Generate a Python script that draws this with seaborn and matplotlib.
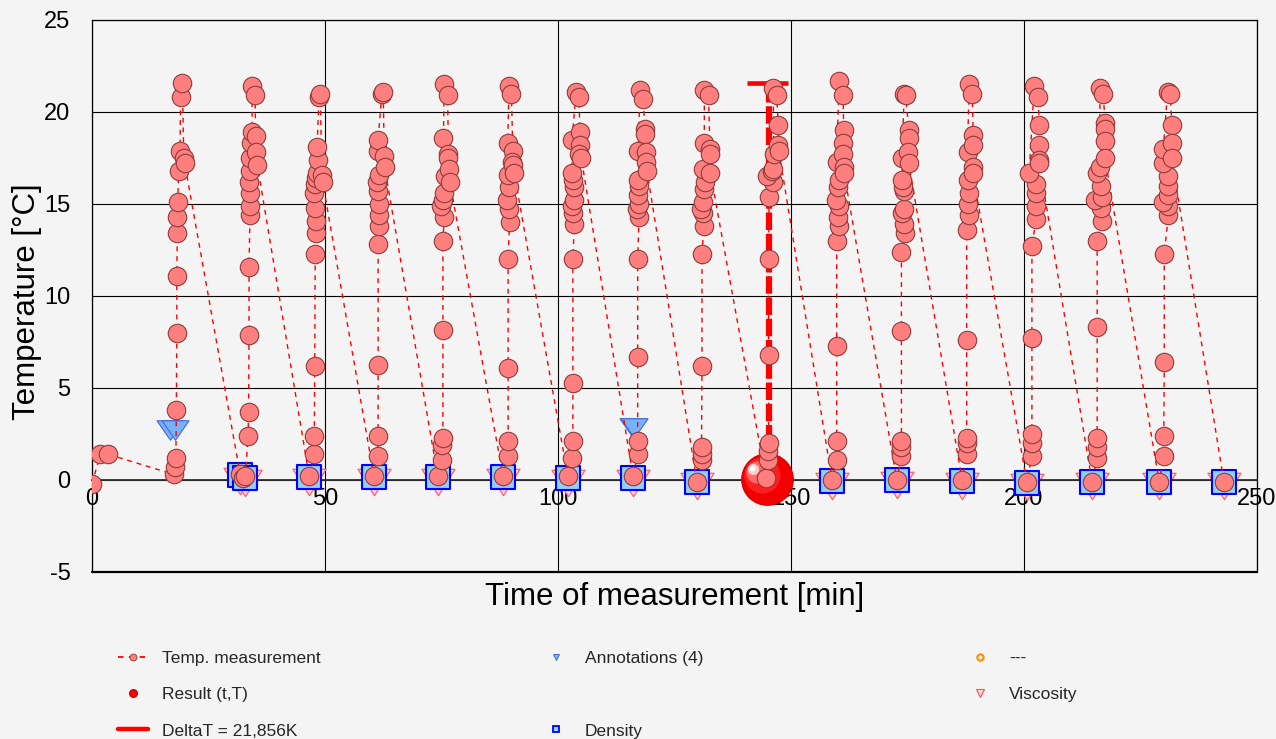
import matplotlib
matplotlib.use("Agg")
import numpy as np
import pandas as pd
import seaborn as sns
from matplotlib import pyplot as plt
from matplotlib.lines import Line2D
from matplotlib.path import Path
from matplotlib.transforms import offset_copy

# temperature measurements, one pair of lists per heating cycle (time [min], temp [°C])
t_c00 = [0.0, 1.8, 3.4]
T_c00 = [-0.2, 1.4, 1.4]
t_c01 = [17.6, 17.8, 18.0, 18.1, 18.2, 18.2, 18.3, 18.3, 18.4, 18.6, 18.9, 19.0, 19.4, 19.7, 19.9]
T_c01 = [0.3, 0.7, 1.2, 3.8, 8.0, 11.1, 13.4, 14.3, 15.1, 16.8, 17.9, 20.8, 21.6, 17.5, 17.2]
t_c02 = [31.8, 32.4, 32.9, 33.5, 33.6, 33.7, 33.7, 33.9, 33.8, 33.8, 33.6, 33.9, 34.0, 34.2, 34.4, 34.3, 35.0, 35.1, 35.3, 35.5]
T_c02 = [0.3, 0.1, 0.2, 2.4, 3.7, 7.9, 11.6, 14.4, 14.9, 15.6, 16.2, 16.8, 17.5, 18.3, 18.9, 21.4, 20.9, 18.7, 17.8, 17.1]
t_c03 = [46.6, 47.6, 47.7, 47.8, 47.9, 48.0, 48.1, 47.9, 47.6, 47.9, 48.0, 48.2, 48.4, 48.3, 48.7, 49.0, 49.3, 49.5]
T_c03 = [0.2, 1.4, 2.4, 6.2, 12.3, 13.4, 14.1, 14.8, 15.6, 16.1, 16.4, 16.7, 17.4, 18.1, 20.8, 21.0, 16.6, 16.2]
t_c04 = [60.5, 61.3, 61.4, 61.4, 61.4, 61.6, 61.6, 61.5, 61.4, 61.2, 61.6, 61.3, 61.4, 62.2, 62.5, 62.7, 62.8]
T_c04 = [0.2, 1.3, 2.4, 6.25, 12.8, 13.8, 14.4, 15.0, 15.7, 16.2, 16.6, 17.9, 18.5, 21.0, 21.1, 17.6, 17.0]
t_c05 = [74.2, 75.2, 75.2, 75.3, 75.3, 75.3, 75.6, 75.0, 75.4, 75.6, 75.8, 75.4, 75.6, 76.3, 76.5, 76.3, 76.6, 76.8]
T_c05 = [0.2, 1.1, 1.9, 2.3, 8.15, 13.0, 14.3, 14.9, 15.2, 15.6, 16.5, 18.6, 21.5, 20.9, 17.7, 17.5, 16.9, 16.2]
t_c06 = [88.2, 89.2, 89.3, 89.3, 89.3, 89.6, 89.4, 89.0, 89.5, 89.3, 89.2, 89.5, 90.0, 90.3, 90.2, 90.4, 90.6]
T_c06 = [0.2, 1.3, 2.1, 6.1, 12.0, 14.0, 14.7, 15.2, 15.9, 16.6, 18.3, 21.4, 21.0, 17.9, 17.3, 17.1, 16.7]
t_c07 = [102.1, 103.1, 103.2, 103.2, 103.2, 103.5, 103.3, 103.0, 103.5, 103.4, 103.3, 103.0, 103.0, 103.9, 104.5, 104.7, 104.7, 104.6, 105.0]
T_c07 = [0.2, 1.2, 2.1, 5.25, 12.0, 13.9, 14.5, 14.9, 15.2, 15.9, 16.3, 16.7, 18.5, 21.1, 20.8, 18.9, 18.2, 17.7, 17.5]
t_c08 = [116.1, 117.1, 117.1, 117.1, 117.1, 117.4, 116.9, 117.4, 117.2, 117.4, 117.2, 117.2, 117.6, 118.2, 118.7, 118.6, 118.8, 118.9, 119.1]
T_c08 = [0.2, 1.4, 2.1, 6.7, 12.0, 14.3, 14.7, 15.0, 15.5, 16.0, 16.3, 17.9, 21.2, 20.7, 19.1, 18.8, 17.8, 17.3, 16.8]
t_c09 = [129.8, 130.8, 130.9, 130.8, 130.9, 130.9, 131.3, 131.2, 130.6, 131.2, 131.3, 131.5, 131.1, 131.4, 131.4, 132.3, 132.6, 132.6, 132.7]
T_c09 = [-0.1, 1.1, 1.4, 1.8, 6.2, 12.3, 13.8, 14.5, 14.7, 15.1, 15.8, 16.2, 16.9, 18.3, 21.2, 20.9, 18.0, 17.7, 16.7]
t_c10 = [144.6, 145.1, 145.1, 145.2, 145.2, 145.2, 145.3, 146.2, 144.9, 146.0, 146.2, 146.3, 146.2, 146.9, 147.3, 147.3, 147.4]
T_c10 = [0.1, 1.1, 1.6, 2.0, 6.8, 12.0, 15.4, 16.2, 16.5, 16.8, 16.9, 17.7, 21.3, 20.9, 19.3, 18.2, 17.9]
t_c11 = [158.8, 159.8, 159.8, 159.8, 159.8, 160.3, 160.1, 160.3, 159.7, 160.1, 160.2, 159.8, 160.3, 161.2, 161.3, 161.2, 161.1, 161.3, 161.4]
T_c11 = [0.0, 1.1, 2.1, 7.3, 13.0, 13.8, 14.3, 14.9, 15.2, 15.9, 16.3, 17.3, 21.7, 20.9, 19.0, 18.3, 17.7, 17.0, 16.7]
t_c12 = [172.7, 173.7, 173.7, 173.7, 173.7, 173.7, 174.4, 174.3, 173.8, 174.3, 174.3, 174.1, 173.9, 173.8, 174.3, 174.6, 175.3, 175.3, 175.2, 175.3]
T_c12 = [0.0, 1.3, 1.8, 2.1, 8.1, 12.4, 13.4, 13.9, 14.5, 14.7, 15.7, 15.9, 16.3, 17.5, 21.0, 20.9, 19.0, 18.6, 17.8, 17.2]
t_c13 = [186.7, 187.7, 187.7, 187.7, 187.7, 187.7, 188.2, 187.9, 188.2, 188.0, 187.9, 188.2, 188.9, 189.1, 189.1, 189.1, 189.0]
T_c13 = [0.0, 1.4, 2.0, 2.3, 7.6, 13.6, 14.4, 15.0, 15.6, 16.3, 17.8, 21.5, 21.0, 18.75, 18.2, 17.0, 16.7]
t_c14 = [200.6, 201.7, 201.7, 201.7, 201.7, 201.7, 202.6, 202.6, 202.6, 202.5, 201.1, 202.2, 203.0, 203.3, 203.3, 203.2, 203.3]
T_c14 = [-0.1, 1.3, 2.0, 2.5, 7.7, 12.7, 14.2, 14.9, 15.6, 16.1, 16.7, 21.4, 20.8, 19.3, 18.2, 17.4, 17.2]
t_c15 = [214.6, 215.7, 215.7, 215.7, 215.7, 215.7, 216.7, 216.5, 215.2, 216.7, 216.6, 215.6, 216.3, 216.3, 217.0, 217.4, 217.4, 217.4, 217.4]
T_c15 = [-0.1, 1.2, 1.8, 2.3, 8.3, 13.0, 14.1, 14.8, 15.2, 15.4, 16.0, 16.7, 17.0, 21.3, 21.0, 19.4, 19.1, 18.4, 17.5]
t_c16 = [229.0, 230.0, 230.0, 230.1, 230.1, 231.0, 230.9, 229.9, 231.0, 231.0, 230.9, 229.9, 229.9, 230.8, 231.4, 231.7, 231.7, 231.7]
T_c16 = [-0.1, 1.3, 2.4, 6.4, 12.3, 14.4, 14.9, 15.1, 15.5, 16.0, 16.5, 17.2, 18.0, 21.1, 21.0, 19.3, 18.3, 17.5]
t_c17 = [242.9]
T_c17 = [-0.1]

# density / viscosity samples taken at the start of each cycle
dens_t = [31.8, 32.8, 46.6, 60.5, 74.2, 88.2, 102.1, 116.1, 129.8, 144.6, 158.8, 172.7, 186.7, 200.6, 214.6, 229.0, 242.9]
dens_T = [0.25, 0.1, 0.15, 0.15, 0.15, 0.15, 0.1, 0.1, -0.1, 0.0, -0.05, 0.0, -0.05, -0.15, -0.1, -0.1, -0.1]
visc_T = [-0.05, -0.15, -0.1, -0.1, -0.1, -0.1, -0.15, -0.15, -0.35, -0.25, -0.3, -0.25, -0.3, -0.4, -0.35, -0.35, -0.35]

# annotations (4)
annot_t = [16.7, 17.8, 116.2, 116.4]
annot_T = [2.7, 2.7, 2.85, 2.85]

# result point and DeltaT marker
result_t = [144.85]
result_T = [0.03]
deltaT_t = [145.2, 145.2]
deltaT_T = [-0.25, 21.6]
deltaT_cap_t = [140.5, 149.4]
deltaT_cap_T = [21.6, 21.6]

x_ticks = [0, 50, 100, 150, 200, 250]
y_ticks = [-5, 0, 5, 10, 15, 20, 25]

BG = "#F4F4F4"

sns.set_style("white", rc={"axes.facecolor": BG, "figure.facecolor": BG})
plt.rcParams["font.family"] = ["Liberation Sans", "DejaVu Sans"]
plt.rcParams["axes.unicode_minus"] = False

fig = plt.figure(figsize=(12.76, 7.39), dpi=100, facecolor=BG)
ax = fig.add_axes([0.0721, 0.2260, 0.9130, 0.7470])
ax.set_facecolor(BG)

all_t = t_c00 + t_c01 + t_c02 + t_c03 + t_c04 + t_c05 + t_c06 + t_c07 + t_c08 + t_c09 \
    + t_c10 + t_c11 + t_c12 + t_c13 + t_c14 + t_c15 + t_c16 + t_c17
all_T = T_c00 + T_c01 + T_c02 + T_c03 + T_c04 + T_c05 + T_c06 + T_c07 + T_c08 + T_c09 \
    + T_c10 + T_c11 + T_c12 + T_c13 + T_c14 + T_c15 + T_c16 + T_c17
temp_df = pd.DataFrame({"time": all_t, "temp": all_T})
dens_df = pd.DataFrame({"time": dens_t, "density": dens_T, "viscosity": visc_T})
annot_df = pd.DataFrame({"time": annot_t, "temp": annot_T})

# flattened down-pointing triangles
tri_visc = Path([(-1, 0.8), (1, 0.8), (0, -0.8), (-1, 0.8)],
                [Path.MOVETO, Path.LINETO, Path.LINETO, Path.CLOSEPOLY])
tri_annot = Path([(-1, 0.72), (1, 0.72), (0, -0.72), (-1, 0.72)],
                 [Path.MOVETO, Path.LINETO, Path.LINETO, Path.CLOSEPOLY])

# grid / frame
ax.set_xlim(0, 250)
ax.set_ylim(-5, 25)
ax.set_xticks(x_ticks)
ax.set_yticks(y_ticks)
ax.grid(True, color="black", lw=0.8, zorder=0)
ax.set_axisbelow(True)
for s in ["left", "top", "right"]:
    ax.spines[s].set_color("black")
    ax.spines[s].set_linewidth(0.9)
ax.spines["bottom"].set_position(("data", 0))
ax.spines["bottom"].set_color("#303030")
ax.spines["bottom"].set_linewidth(1.3)
ax.axhline(-5, color="black", lw=1.6, clip_on=False, zorder=1)
ax.tick_params(axis="x", length=0, pad=6, labelsize=17, colors="black")
ax.tick_params(axis="y", length=11.5, width=0.9, direction="out", pad=4, labelsize=17, colors="black")

sns.scatterplot(data=dens_df, x="time", y="viscosity", marker=tri_visc, s=566,
                color="#FFD6D6", edgecolor="#FF6464", linewidth=0.9, zorder=2, ax=ax, legend=False)
sns.scatterplot(data=dens_df, x="time", y="density", marker="s", s=285,
                color="#8CD2FC", edgecolor="#0000FF", linewidth=1.5, zorder=3, ax=ax, legend=False)
sns.scatterplot(data=annot_df, x="time", y="temp", marker=tri_annot, s=378,
                color="#78B2FA", edgecolor="#4468D8", linewidth=0.8, zorder=4, ax=ax, legend=False)

# result ball with a little shading
ax.plot(result_t, result_T, "o", ms=37, color="#F20000", mec="#E00000", zorder=5)
for ms, col, dx, dy in [(26, "#FF1E1E", -5, 4), (16, "#FF6A6A", -10, 7), (8, "#FFD0D0", -14, 10), (4, "white", -15, 11)]:
    tr = offset_copy(ax.transData, fig=fig, x=dx, y=dy, units="dots")
    ax.plot(result_t, result_T, "o", ms=ms, color=col, mew=0, transform=tr, zorder=5)

ax.plot(deltaT_t, deltaT_T, color="#FF0000", lw=4.5, linestyle=(0, (2.8, 0.6)), zorder=6)
ax.plot(deltaT_cap_t, deltaT_cap_T, color="#FF0000", lw=3.3, solid_capstyle="butt", zorder=6)

sns.lineplot(data=temp_df, x="time", y="temp", sort=False, estimator=None, ax=ax,
             color="#FF0000", linewidth=1.0, linestyle=(0, (3.5, 3.5)),
             marker="o", markersize=13.3, markerfacecolor="#FF7F7F",
             markeredgecolor="#8E3B3B", markeredgewidth=0.8, zorder=7, legend=False)

ax.set_xlim(0, 250)
ax.set_ylim(-5, 25)
ax.set_xlabel("Time of measurement [min]", fontsize=22.5, color="black")
ax.set_ylabel("Temperature [°C]", fontsize=22.5, color="black")
ax.xaxis.set_label_coords(0.5, -0.018)
ax.yaxis.set_label_coords(-0.043, 0.49)

# legend, three columns
leg_font = {"family": ["Liberation Sans"], "size": 12.5}
blank = Line2D([], [], linestyle="none")
col1 = [
    (Line2D([], [], color="#FF0000", lw=1.3, linestyle=(0, (3, 3)), marker="o", ms=5,
            mfc="#FF7F7F", mec="#8E3B3B", mew=0.6), "Temp. measurement"),
    (Line2D([], [], linestyle="none", marker="o", ms=5.5, mfc="#FF0000", mec="#D00000"), "Result (t,T)"),
    (Line2D([], [], color="#FF0000", lw=3.2), "DeltaT = 21,856K"),
]
col2 = [
    (Line2D([], [], linestyle="none", marker="v", ms=5, mfc="#78B2FA", mec="#4468D8", mew=0.7), "Annotations (4)"),
    (blank, ""),
    (Line2D([], [], linestyle="none", marker="s", ms=4.5, mfc="#8CD2FC", mec="#0000FF", mew=1.3), "Density"),
]
col3 = [
    (Line2D([], [], linestyle="none", marker="o", ms=4.5, mfc="none", mec="#FF8C00", mew=1.5), "---"),
    (Line2D([], [], linestyle="none", marker="v", ms=5.5, mfc="#FFD6D6", mec="#FF5050", mew=0.8), "Viscosity"),
    (blank, ""),
]
for x0, entries in [(0.0925, col1), (0.4240, col2), (0.7563, col3)]:
    fig.legend([h for h, _ in entries], [l for _, l in entries], loc="upper left",
               bbox_to_anchor=(x0, 0.119), bbox_transform=fig.transFigure,
               frameon=False, prop=leg_font, handlelength=1.72, handletextpad=0.8,
               labelspacing=1.21, borderpad=0, borderaxespad=0)

fig.savefig("out.png", dpi=100, facecolor=BG)
